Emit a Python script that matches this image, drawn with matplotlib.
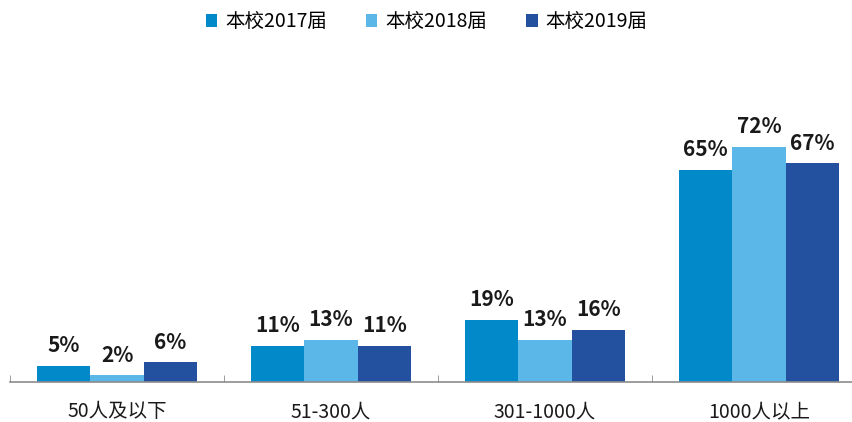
import numpy as np
import matplotlib
matplotlib.use('Agg')
import matplotlib.pyplot as plt

plt.rcParams['font.family'] = ['Noto Sans CJK SC', 'DejaVu Sans']

categories = ['50人及以下', '51-300人', '301-1000人', '1000人以上']
series = ['本校2017届', '本校2018届', '本校2019届']
v2017 = [5, 11, 19, 65]
v2018 = [2, 13, 13, 72]
v2019 = [6, 11, 16, 67]
colors = ['#0289C9', '#5AB7E7', '#2450A0']

W, H = 853, 422
fig = plt.figure(figsize=(W / 100, H / 100), dpi=100)
# axes spans past the right edge, as in the reference
ax = fig.add_axes([10 / W, 40 / H, 856 / W, 261 / H])

x = np.arange(len(categories))
bw = 0.25
for i, (vals, c) in enumerate(zip([v2017, v2018, v2019], colors)):
  pos = x + (i - 1) * bw
  ax.bar(pos, vals, width=bw, color=c, label=series[i])
  for p, v in zip(pos, vals):
    ax.annotate('%d%%' % v, (p, v), xytext=(0, 7), textcoords='offset points',
                ha='center', va='bottom', fontsize=15, fontweight='bold',
                color='#1a1a1a')

ax.set_xlim(-0.5, len(categories) - 0.5)
ax.set_ylim(0, 80)
for s in ['top', 'right', 'left']:
  ax.spines[s].set_visible(False)
ax.spines['bottom'].set_color('#8c8c8c')
ax.spines['bottom'].set_linewidth(1.2)
ax.set_yticks([])
ax.set_xticks(np.arange(len(categories) + 1) - 0.5, minor=True)
ax.set_xticks(x)
ax.set_xticklabels(categories, fontsize=14, color='#1a1a1a')
ax.tick_params(axis='x', which='major', length=0, pad=14)
ax.tick_params(axis='x', which='minor', length=5, direction='in', color='#8c8c8c')

handles, labels = ax.get_legend_handles_labels()
fig.legend(handles, labels, loc='center', bbox_to_anchor=(0.5, 1 - 22 / H),
           ncol=3, frameon=False, fontsize=14, handlelength=0.6,
           handleheight=0.6, handletextpad=0.4, columnspacing=2.0)

fig.savefig('out.png', dpi=100)
